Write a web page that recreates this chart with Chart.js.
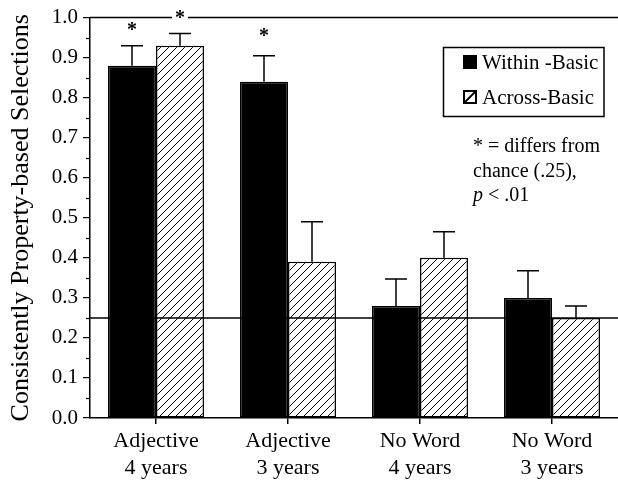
<!DOCTYPE html>
<html>
<head>
<meta charset="utf-8">
<script src="https://cdn.jsdelivr.net/npm/chart.js@4.4.1/dist/chart.umd.min.js"></script>
<style>
    html, body { margin: 0; padding: 0; background: #fff; }
    #wrap { width: 618px; height: 484px; }
</style>
</head>
<body>
<div id="wrap"><canvas id="chartProps" width="618" height="484"></canvas></div>
<script>
/* ---------- data ---------- */
const categories = [["Adjective", "4 years"], ["Adjective", "3 years"], ["No Word", "4 years"], ["No Word", "3 years"]];
const withinBasic = [0.88, 0.84, 0.28, 0.30];
const withinErrTop = [0.93, 0.905, 0.347, 0.368];
const acrossBasic = [0.93, 0.39, 0.40, 0.25];
const acrossErrTop = [0.96, 0.49, 0.465, 0.28];
// star marks: [dataset, category, value level]
const stars = [[0, 0, 0.97], [1, 0, 1.0], [0, 1, 0.955]];
const chanceLevel = 0.25;
const yTicks = { min: 0, max: 1, step: 0.1 };
const noteLines = ["* = differs from", "chance (.25),", "p < .01"];

const SERIF = "'Liberation Serif', 'Times New Roman', serif";

/* ---------- hatch pattern ---------- */
function makeHatch() {
    const c = document.createElement("canvas");
    c.width = 8; c.height = 8;
    const g = c.getContext("2d");
    g.fillStyle = "#fff";
    g.fillRect(0, 0, 8, 8);
    g.strokeStyle = "#000";
    g.lineWidth = 1;
    g.beginPath();
    g.moveTo(-1, 9); g.lineTo(9, -1);
    g.moveTo(-1, 1); g.lineTo(1, -1);
    g.moveTo(7, 9); g.lineTo(9, 7);
    g.stroke();
    return g.createPattern(c, "repeat");
}
const hatch = makeHatch();

/* ---------- extras: error bars, chance line, stars, legend, note ---------- */
const extrasPlugin = {
    id: "extras",
    afterDraw(chart) {
        const ctx = chart.ctx;
        const area = chart.chartArea;
        const y = chart.scales.y;
        const errs = [withinErrTop, acrossErrTop];

        ctx.save();
        ctx.strokeStyle = "#000";

        // minor ticks
        ctx.lineWidth = 1.2;
        for (let v = 0.05; v < yTicks.max; v += yTicks.step) {
            const py = Math.round(y.getPixelForValue(v)) + 0.5;
            ctx.beginPath();
            ctx.moveTo(area.left - 4, py);
            ctx.lineTo(area.left, py);
            ctx.stroke();
        }

        // error bars (upper only)
        ctx.lineWidth = 1.5;
        chart.data.datasets.forEach((ds, i) => {
            chart.getDatasetMeta(i).data.forEach((bar, j) => {
                const top = y.getPixelForValue(errs[i][j]);
                ctx.beginPath();
                ctx.moveTo(bar.x, bar.y);
                ctx.lineTo(bar.x, top);
                ctx.moveTo(bar.x - 11, top);
                ctx.lineTo(bar.x + 11, top);
                ctx.stroke();
            });
        });

        // chance line
        ctx.lineWidth = 1.5;
        const cy = y.getPixelForValue(chanceLevel);
        ctx.beginPath();
        ctx.moveTo(area.left, cy);
        ctx.lineTo(area.right, cy);
        ctx.stroke();

        // top line at 1.0 with gap for star
        const ty = y.getPixelForValue(yTicks.max);
        const gapX = chart.getDatasetMeta(1).data[0].x;
        ctx.beginPath();
        ctx.moveTo(area.left, ty);
        ctx.lineTo(gapX - 8, ty);
        ctx.moveTo(gapX + 8, ty);
        ctx.lineTo(area.right, ty);
        ctx.stroke();

        // stars
        ctx.fillStyle = "#000";
        ctx.font = "bold 20px " + SERIF;
        ctx.textAlign = "center";
        ctx.textBaseline = "alphabetic";
        stars.forEach(([d, c, v]) => {
            const bx = chart.getDatasetMeta(d).data[c].x;
            ctx.fillText("*", bx, y.getPixelForValue(v) + 6);
        });

        // legend box
        ctx.lineWidth = 1.5;
        ctx.strokeRect(443.5, 47.5, 160.5, 69);
        const rows = [[62, chart.data.datasets[0]], [97, chart.data.datasets[1]]];
        ctx.font = "21px " + SERIF;
        ctx.textAlign = "left";
        ctx.textBaseline = "middle";
        rows.forEach(([ry, ds], k) => {
            if (k === 0) {
                ctx.fillRect(463, ry - 7, 14, 14);
            } else {
                ctx.lineWidth = 2;
                ctx.strokeRect(464, ry - 6, 12, 12);
                ctx.beginPath();
                ctx.moveTo(464, ry + 6);
                ctx.lineTo(476, ry - 6);
                ctx.stroke();
            }
            ctx.fillText(ds.label, 482, ry + 1);
        });

        // note
        ctx.font = "20px " + SERIF;
        ctx.fillText(noteLines[0], 473, 147);
        ctx.fillText(noteLines[1], 473, 172);
        ctx.font = "italic 20px " + SERIF;
        ctx.fillText("p", 473, 196);
        const pw = ctx.measureText("p ").width;
        ctx.font = "20px " + SERIF;
        ctx.fillText(noteLines[2].slice(2), 473 + pw, 196);

        ctx.restore();
    }
};

/* ---------- chart ---------- */
new Chart(document.getElementById("chartProps"), {
    type: "bar",
    data: {
        labels: categories,
        datasets: [{
            label: "Within -Basic",
            data: withinBasic,
            backgroundColor: "#000",
            borderColor: "#000",
            borderWidth: 1.5,
            borderSkipped: false
        }, {
            label: "Across-Basic",
            data: acrossBasic,
            backgroundColor: hatch,
            borderColor: "#000",
            borderWidth: 1.5,
            borderSkipped: false
        }]
    },
    options: {
        responsive: false,
        animation: false,
        barPercentage: 1,
        categoryPercentage: 96 / 132,
        layout: { padding: { top: 14, left: 0, right: 0, bottom: 0 } },
        plugins: {
            legend: { display: false },
            tooltip: { enabled: false }
        },
        scales: {
            x: {
                afterFit: s => { s.height = 66; },
                grid: { offset: false, drawOnChartArea: false, tickLength: 6, color: "#000", lineWidth: 1.5 },
                border: { display: true, color: "#000", width: 1.5 },
                ticks: {
                    color: "#000",
                    padding: 3,
                    maxRotation: 0,
                    font: { family: SERIF, size: 22, lineHeight: 1.25 }
                }
            },
            y: {
                min: yTicks.min,
                max: yTicks.max,
                afterFit: s => { s.width = 90; },
                grid: { drawOnChartArea: false, tickLength: 7, color: "#000", lineWidth: 1.2 },
                border: { display: true, color: "#000", width: 1.5 },
                ticks: {
                    stepSize: yTicks.step,
                    color: "#000",
                    padding: 5,
                    font: { family: SERIF, size: 21 },
                    callback: v => v.toFixed(1)
                },
                title: {
                    display: true,
                    text: "Consistently Property-based Selections",
                    color: "#000",
                    padding: { top: 6, bottom: 0 },
                    font: { family: SERIF, size: 26 }
                }
            }
        }
    },
    plugins: [extrasPlugin]
});
</script>
</body>
</html>
